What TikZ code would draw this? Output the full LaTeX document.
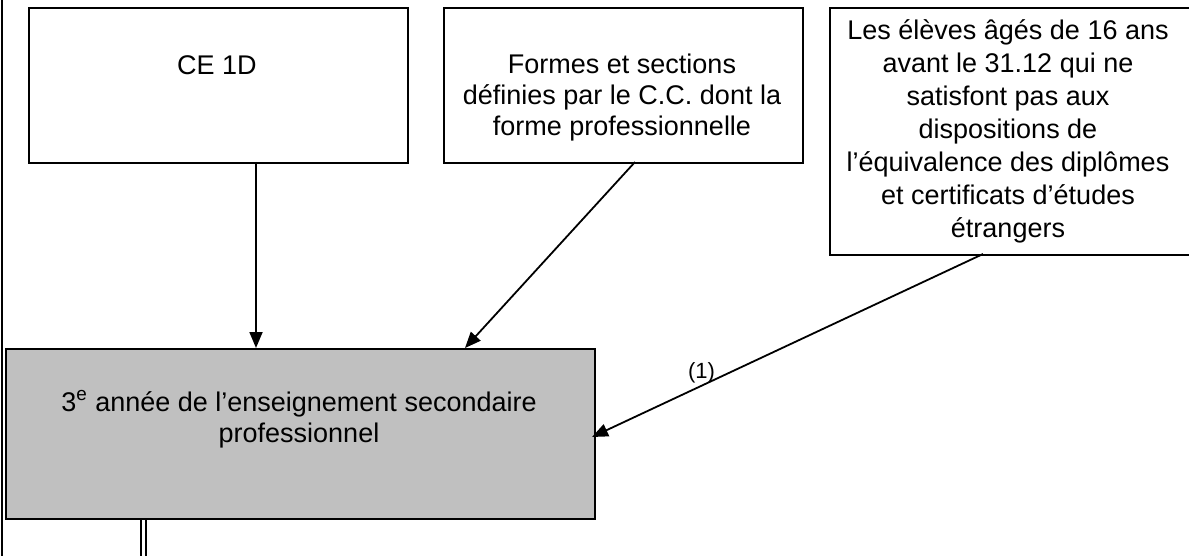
\documentclass[tikz,border=0pt]{standalone}
\usepackage{fontspec}
\setmainfont{Liberation Sans}
\usetikzlibrary{arrows.meta}
\begin{document}
\begin{tikzpicture}[x=0.5pt,y=-0.5pt,
  box/.style={draw=black, line width=1pt, anchor=north west, inner sep=0pt},
  grey/.style={box, fill=boxgrey},
  txt/.style={align=center, inner sep=0pt, font=\fontsize{13.5}{16.5}\selectfont},
  arr/.style={draw=black, line width=0.9pt, -{Triangle[length=8pt,width=6.5pt]}},
  lbl/.style={inner sep=1pt, font=\fontsize{11}{12}\selectfont}
]
\definecolor{boxgrey}{RGB}{192,192,192}
\clip (0,0) rectangle (1189,556);
\fill[white] (0,0) rectangle (1189,556);
% left border line
\coordinate (lt) at (1.5,0);
\coordinate (lb) at (1.5,556);
\draw[line width=1pt] (lt) -- (lb);
% boxes
\node[box, minimum width=379pt*0.5, minimum height=155pt*0.5] (b1) at (28,7) {};
\node[box, minimum width=359pt*0.5, minimum height=155pt*0.5] (b2) at (443,7) {};
\node[box, minimum width=380pt*0.5, minimum height=247pt*0.5] (b3) at (829,7) {};
\node[grey, minimum width=589pt*0.5, minimum height=170pt*0.5] (g) at (5,348) {};
% texts
\node[txt] (t1) at (217,65) {CE 1D};
\node[txt, font=\fontsize{13.5}{15.5}\selectfont] (t2) at (622,98) {Formes et sections\\définies par le C.C. dont la\\forme professionnelle};
\node[txt] (t3) at (1008,131) {Les élèves âgés de 16 ans\\avant le 31.12 qui ne\\satisfont pas aux\\dispositions de\\l’équivalence des diplômes\\et certificats d’études\\étrangers};
\node[txt, font=\fontsize{13.5}{15.5}\selectfont] (tg) at (299,419) {3\textsuperscript{e} année de l’enseignement secondaire\\professionnel};
% connectors
\coordinate (a1s) at (256,162);
\coordinate (a1e) at (256,348);
\draw[arr] (a1s) -- (a1e);
\coordinate (a2s) at (635,162);
\coordinate (a2e) at (465,348);
\draw[arr] (a2s) -- (a2e);
\coordinate (a3s) at (983,254);
\coordinate (a3e) at (592,437);
\draw[arr] (a3s) -- node[lbl, pos=0.72, above] (l1) {(1)} (a3e);
% double line below grey box
\coordinate (d1s) at (141,518);
\coordinate (d1e) at (141,556);
\coordinate (d2s) at (146,518);
\coordinate (d2e) at (146,556);
\draw[line width=1pt] (d1s) -- (d1e);
\draw[line width=1pt] (d2s) -- (d2e);
\end{tikzpicture}
\end{document}
